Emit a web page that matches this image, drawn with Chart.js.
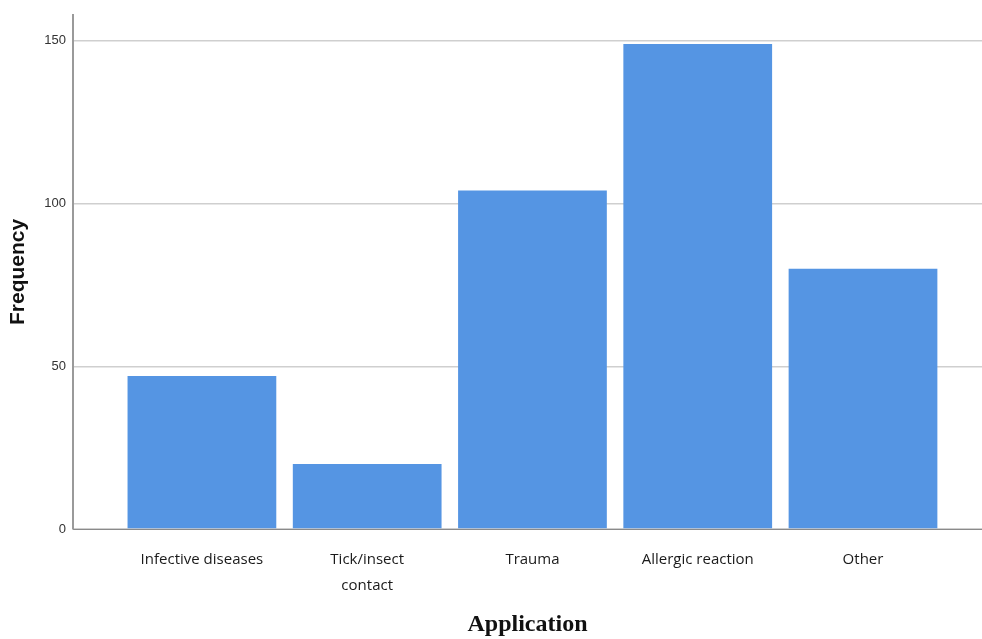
<!DOCTYPE html>
<html>
<head>
<meta charset="utf-8">
<script src="https://cdn.jsdelivr.net/npm/chart.js@4/dist/chart.umd.min.js"></script>
<style>
  html, body { margin: 0; padding: 0; background: #fff; }
  #wrap { width: 982px; height: 639px; }
</style>
</head>
<body>
<div id="wrap"><canvas id="freqChart"></canvas></div>
<script>
// Frequency by application
const categories = ["Infective diseases", ["Tick/insect", "contact"], "Trauma", "Allergic reaction", "Other"];
const frequency = [47, 20, 104, 149, 80];
const yTicks = [0, 50, 100, 150];

function initChart() {
  const el = document.getElementById("freqChart");
  const points = frequency.map((v, i) => ({ x: i, y: v }));

  new Chart(el, {
    type: "bar",
    data: {
      datasets: [
        {
          label: "Frequency",
          data: points,
          backgroundColor: "#5595e3",
          borderWidth: 0,
          categoryPercentage: 1,
          barPercentage: 0.9,
        },
      ],
    },
    options: {
      responsive: true,
      maintainAspectRatio: false,
      animation: false,
      layout: { padding: { top: 14, left: 0, right: 0, bottom: 0 } },
      plugins: { legend: { display: false }, tooltip: { enabled: false } },
      scales: {
        x: {
          type: "linear",
          min: -0.78,
          max: 4.72,
          offset: false,
          grid: { display: false, drawTicks: false },
          border: { display: true, color: "#8a8a8a", width: 1 },
          afterBuildTicks: (scale) => {
            scale.ticks = categories.map((c, i) => ({ value: i }));
          },
          afterFit: (scale) => {
            scale.height = 110;
          },
          ticks: {
            autoSkip: false,
            maxRotation: 0,
            padding: 18,
            color: "#1a1a1a",
            font: { family: "Open Sans", size: 15, lineHeight: 1.74 },
            callback: (v) => categories[v],
          },
          title: {
            display: true,
            text: "Application",
            color: "#111",
            font: { family: "Liberation Serif", size: 24, weight: "bold" },
            padding: { top: 0, bottom: 0 },
          },
        },
        y: {
          min: 0,
          max: 158,
          grid: { color: "#cfcfcf", lineWidth: 1.5, drawTicks: false },
          border: { display: true, color: "#9a9a9a", width: 2 },
          afterBuildTicks: (scale) => {
            scale.ticks = yTicks.map((v) => ({ value: v }));
          },
          afterFit: (scale) => {
            scale.width = 73;
          },
          ticks: {
            padding: 7,
            color: "#333",
            font: { family: "Liberation Sans", size: 13 },
          },
          title: {
            display: true,
            text: "Frequency",
            color: "#111",
            font: { family: "Liberation Sans", size: 21, weight: "bold" },
            padding: { top: 6, bottom: 0 },
          },
        },
      },
    },
  });
}

if (document.readyState === "loading") {
  document.addEventListener("DOMContentLoaded", initChart);
} else {
  initChart();
}
</script>
</body>
</html>
